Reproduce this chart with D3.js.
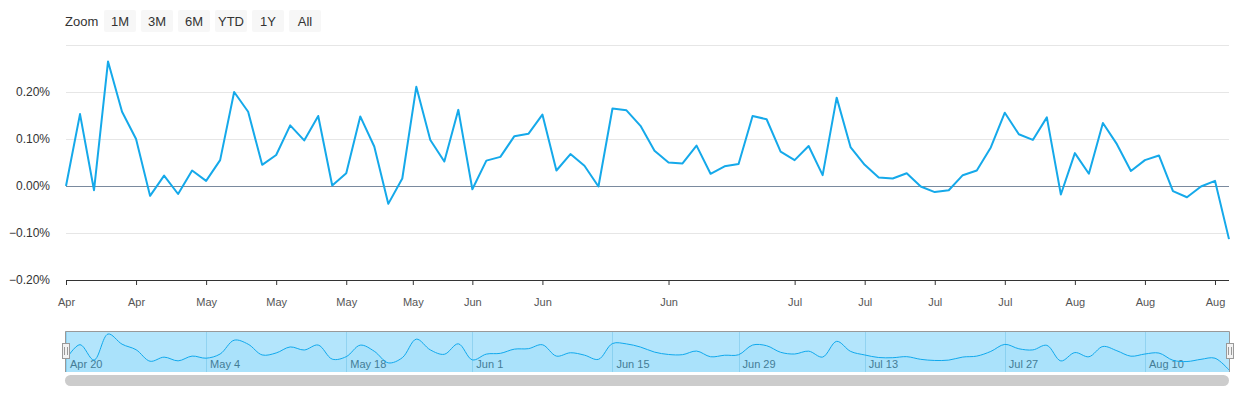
<!DOCTYPE html>
<html>
<head>
<meta charset="utf-8">
<script src="https://cdn.jsdelivr.net/npm/d3@7"></script>
<style>
  body { margin: 0; background: #fff; }
  svg { font-family: "Liberation Sans", Arial, sans-serif; }
</style>
</head>
<body>
<svg id="chart"></svg>
<script>
// trading days (2026), holidays left out
const dates = [
  "2026-04-20","2026-04-21","2026-04-22","2026-04-23","2026-04-24",
  "2026-04-27","2026-04-28","2026-04-29","2026-04-30","2026-05-01",
  "2026-05-04","2026-05-05","2026-05-06","2026-05-07","2026-05-08",
  "2026-05-11","2026-05-12","2026-05-13","2026-05-14","2026-05-15",
  "2026-05-18","2026-05-19","2026-05-20","2026-05-21","2026-05-22",
  "2026-05-26","2026-05-27","2026-05-28","2026-05-29",
  "2026-06-01","2026-06-02","2026-06-03","2026-06-04","2026-06-05",
  "2026-06-08","2026-06-09","2026-06-10","2026-06-11","2026-06-12",
  "2026-06-15","2026-06-16","2026-06-17","2026-06-18",
  "2026-06-22","2026-06-23","2026-06-24","2026-06-25","2026-06-26",
  "2026-06-29","2026-06-30","2026-07-01","2026-07-02",
  "2026-07-06","2026-07-07","2026-07-08","2026-07-09","2026-07-10",
  "2026-07-13","2026-07-14","2026-07-15","2026-07-16","2026-07-17",
  "2026-07-20","2026-07-21","2026-07-22","2026-07-23","2026-07-24",
  "2026-07-27","2026-07-28","2026-07-29","2026-07-30","2026-07-31",
  "2026-08-03","2026-08-04","2026-08-05","2026-08-06","2026-08-07",
  "2026-08-10","2026-08-11","2026-08-12","2026-08-13","2026-08-14",
  "2026-08-17","2026-08-18"
];

// daily change, in percent
const values = [
  0.000, 0.153, -0.009, 0.265, 0.158, 0.100, -0.021, 0.022, -0.017, 0.033,
  0.011, 0.055, 0.200, 0.158, 0.045, 0.066, 0.129, 0.097, 0.149, 0.001,
  0.027, 0.148, 0.084, -0.038, 0.016, 0.211, 0.098, 0.052, 0.162, -0.007,
  0.054, 0.062, 0.106, 0.111, 0.152, 0.033, 0.068, 0.043, -0.001, 0.165,
  0.161, 0.128, 0.075, 0.050, 0.048, 0.086, 0.026, 0.042, 0.047, 0.149,
  0.142, 0.073, 0.055, 0.085, 0.023, 0.188, 0.082, 0.045, 0.018, 0.016,
  0.027, -0.001, -0.013, -0.009, 0.023, 0.033, 0.082, 0.156, 0.110, 0.098,
  0.146, -0.018, 0.070, 0.026, 0.134, 0.089, 0.032, 0.055, 0.065, -0.011,
  -0.024, -0.001, 0.011, -0.113
];

const yTicks = [-0.2, -0.1, 0, 0.1, 0.2, 0.3];
const xTickDates = [
  "2026-04-20","2026-04-27","2026-05-04","2026-05-11","2026-05-18","2026-05-25",
  "2026-06-01","2026-06-08","2026-06-22","2026-07-06","2026-07-13","2026-07-20",
  "2026-07-27","2026-08-03","2026-08-10","2026-08-17"
];
const navTickDates = [
  "2026-04-20","2026-05-04","2026-05-18","2026-06-01","2026-06-15",
  "2026-06-29","2026-07-13","2026-07-27","2026-08-10"
];
const zoomButtons = ["1M", "3M", "6M", "YTD", "1Y", "All"];

let width = 1240;
let height = 400;
let plotLeft = 66, plotRight = 1229, plotTop = 45, plotBottom = 280;
let navTop = 331, navBottom = 372;
let lineColor = "#15a9ea";

const parse = d3.timeParse("%Y-%m-%d");
const times = dates.map(d => parse(d).getTime());

// ordinal axis: a date between two trading days sits in between
function ordinalIndex(str) {
  const t = parse(str).getTime();
  const i = d3.bisectLeft(times, t);
  if (i < times.length && times[i] === t) return i;
  if (i <= 0) return 0;
  if (i >= times.length) return times.length - 1;
  return i - 1 + (t - times[i - 1]) / (times[i] - times[i - 1]);
}

const svg = d3.select("#chart")
  .attr("width", width)
  .attr("height", height);

// range selector
svg.append("text")
  .attr("x", 65).attr("y", 26)
  .attr("font-size", 13).attr("fill", "#333")
  .text("Zoom");

const btn = svg.append("g").selectAll("g")
  .data(zoomButtons)
  .enter().append("g")
  .attr("transform", (d, i) => "translate(" + (104 + i * 37) + ",10)");
btn.append("rect")
  .attr("width", 32).attr("height", 22).attr("rx", 2)
  .attr("fill", "#f7f7f7");
btn.append("text")
  .attr("x", 16).attr("y", 16)
  .attr("text-anchor", "middle")
  .attr("font-size", 13).attr("fill", "#333")
  .text(d => d);

let xScale = d3.scaleLinear()
  .domain([0, values.length - 1])
  .range([plotLeft, plotRight]);

let yScale = d3.scaleLinear()
  .domain([-0.2, 0.3])
  .range([plotBottom, plotTop]);

// grid
svg.append("g").selectAll("line")
  .data(yTicks)
  .enter().append("line")
  .attr("x1", plotLeft).attr("x2", plotRight)
  .attr("y1", d => Math.round(yScale(d)) + 0.5)
  .attr("y2", d => Math.round(yScale(d)) + 0.5)
  .attr("stroke", "#e6e6e6");

svg.append("g").selectAll("text")
  .data(yTicks.filter(d => d < 0.3))
  .enter().append("text")
  .attr("x", 50)
  .attr("y", d => yScale(d) + 4)
  .attr("text-anchor", "end")
  .attr("font-size", 12).attr("fill", "#333")
  .text(d => d3.format(".2f")(d) + "%");

// zero line
svg.append("line")
  .attr("x1", plotLeft).attr("x2", plotRight)
  .attr("y1", Math.round(yScale(0)) + 0.5)
  .attr("y2", Math.round(yScale(0)) + 0.5)
  .attr("stroke", "#7a8a9e");

// x axis
let xAxis = d3.axisBottom(xScale)
  .tickValues(xTickDates.map(ordinalIndex))
  .tickFormat((d, i) => d3.timeFormat("%b")(parse(xTickDates[i])))
  .tickSize(5)
  .tickPadding(13);

svg.append("g")
  .attr("transform", "translate(0," + plotBottom + ")")
  .call(xAxis)
  .call(g => g.select(".domain").attr("stroke", "#333").attr("d", "M" + plotLeft + ",0.5H" + plotRight))
  .call(g => g.selectAll(".tick line").attr("stroke", "#333"))
  .call(g => g.selectAll(".tick text")
    .attr("font-size", 11).attr("fill", "#555"))
  .attr("font-family", null);

svg.append("path")
  .datum(values)
  .attr("fill", "none")
  .attr("stroke", lineColor)
  .attr("stroke-width", 2)
  .attr("stroke-linejoin", "round")
  .attr("d", d3.line()
    .x((d, i) => xScale(i))
    .y(d => yScale(d)));

// navigator
let navY = d3.scaleLinear()
  .domain(d3.extent(values))
  .range([navBottom - 2, navTop + 3]);

const nav = svg.append("g");

nav.selectAll("line.grid")
  .data(navTickDates)
  .enter().append("line")
  .attr("class", "grid")
  .attr("x1", d => Math.round(xScale(ordinalIndex(d))) + 0.5)
  .attr("x2", d => Math.round(xScale(ordinalIndex(d))) + 0.5)
  .attr("y1", navTop).attr("y2", navBottom)
  .attr("stroke", "#cfe6ef");

nav.selectAll("text")
  .data(navTickDates)
  .enter().append("text")
  .attr("x", d => xScale(ordinalIndex(d)) + 4)
  .attr("y", 368)
  .attr("font-size", 11).attr("fill", "#666")
  .text(d => d3.timeFormat("%b %-d")(parse(d)));

nav.append("path")
  .datum(values)
  .attr("fill", lineColor)
  .attr("fill-opacity", 0.05)
  .attr("d", d3.area()
    .curve(d3.curveCatmullRom)
    .x((d, i) => xScale(i))
    .y0(navBottom)
    .y1(d => navY(d)));

nav.append("path")
  .datum(values)
  .attr("fill", "none")
  .attr("stroke", lineColor)
  .attr("stroke-width", 1)
  .attr("d", d3.line()
    .curve(d3.curveCatmullRom)
    .x((d, i) => xScale(i))
    .y(d => navY(d)));

// selected range mask
nav.append("rect")
  .attr("x", plotLeft - 1).attr("y", navTop)
  .attr("width", plotRight - plotLeft + 1).attr("height", navBottom - navTop)
  .attr("fill", "rgb(3,169,244)")
  .attr("fill-opacity", 0.3);

nav.append("path")
  .attr("d", "M" + (plotLeft - 0.5) + "," + navBottom + "V" + (navTop + 0.5) + "H" + (plotRight + 0.5) + "V" + navBottom)
  .attr("fill", "none")
  .attr("stroke", "#999");

// handles
const handles = nav.selectAll("g.handle")
  .data([plotLeft - 0.5, plotRight + 0.5])
  .enter().append("g")
  .attr("class", "handle")
  .attr("transform", d => "translate(" + Math.round(d) + ",0)");
handles.append("rect")
  .attr("x", -3.5).attr("y", 343.5)
  .attr("width", 7).attr("height", 15)
  .attr("fill", "#f2f2f2").attr("stroke", "#999");
handles.append("path")
  .attr("d", "M-1.5,347V355M1.5,347V355")
  .attr("stroke", "#999");

// scrollbar
svg.append("rect")
  .attr("x", plotLeft - 1).attr("y", 375)
  .attr("width", plotRight - plotLeft + 1).attr("height", 11)
  .attr("rx", 5.5)
  .attr("fill", "#cccccc");
</script>
</body>
</html>
